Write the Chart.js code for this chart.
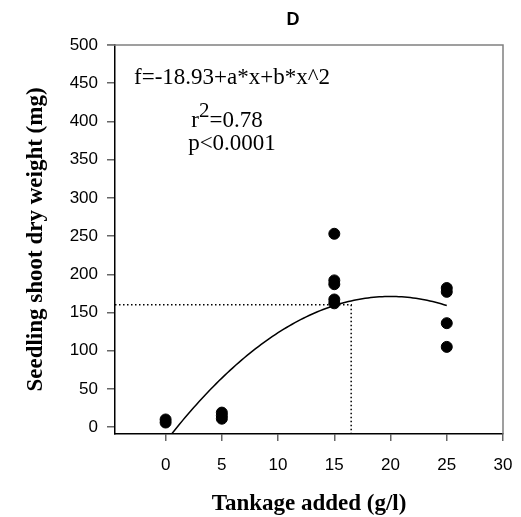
<!DOCTYPE html>
<html>
<head>
<meta charset="utf-8">
<script src="https://cdn.jsdelivr.net/npm/chart.js@4.4.0/dist/chart.umd.min.js"></script>
<style>
  body { margin: 0; background: #fff; }
</style>
</head>
<body>
<canvas id="shootChart" width="521" height="517"></canvas>
<script>
// observed seedlings
var tankage = [0, 0, 5, 5, 5, 15, 15, 15, 15, 15, 25, 25, 25, 25];
var shootWeight = [6, 10, 11, 15, 19, 253, 192, 187, 167, 162, 182, 177, 136, 105];

// tick labels
var xTicks = [0, 5, 10, 15, 20, 25, 30];
var yTicks = [0, 50, 100, 150, 200, 250, 300, 350, 400, 450, 500];

// fitted quadratic  f = c + a*x + b*x^2
var fitC = -18.93, fitA = 18.99, fitB = -0.4748;
var fitFrom = 0, fitTo = 25;

// dotted reference lines
var refX = 16.5, refY = 160;

var xMin = -4.5, xMax = 30, yMin = -9, yMax = 500;

function fitCurve() {
  var pts = [];
  for (var x = fitFrom; x <= fitTo + 1e-9; x += 0.25) {
    pts.push({ x: x, y: fitC + fitA * x + fitB * x * x });
  }
  return pts;
}

var points = tankage.map(function(t, i) { return { x: t, y: shootWeight[i] }; });

var serif = '"Liberation Serif", "Times New Roman", serif';

// text that sits on the canvas itself
var textPlugin = {
  id: 'texts',
  afterDraw: function(chart) {
    var ctx = chart.ctx, a = chart.chartArea;
    ctx.save();
    // grey top and right frame
    ctx.strokeStyle = '#808080';
    ctx.lineWidth = 1.5;
    ctx.beginPath();
    ctx.moveTo(a.left - 8, a.top);
    ctx.lineTo(a.right, a.top);
    ctx.lineTo(a.right, a.bottom);
    ctx.stroke();

    ctx.fillStyle = '#000';
    ctx.textAlign = 'center';
    ctx.textBaseline = 'alphabetic';
    ctx.font = 'bold 18px "Liberation Sans", Arial, sans-serif';
    ctx.fillText('D', 293, 25);

    ctx.font = '23px ' + serif;
    ctx.fillText('f=-18.93+a*x+b*x^2', 232, 84);
    ctx.fillText('p<0.0001', 232, 150);
    // r^2 with raised 2
    ctx.textAlign = 'left';
    var r = 'r', eq = '=0.78';
    var wr = ctx.measureText(r).width, weq = ctx.measureText(eq).width;
    ctx.font = '21px ' + serif;
    var w2 = ctx.measureText('2').width;
    var x0 = 227 - (wr + w2 + weq) / 2;
    ctx.fillText('2', x0 + wr, 117);
    ctx.font = '23px ' + serif;
    ctx.fillText(r, x0, 127);
    ctx.fillText(eq, x0 + wr + w2, 127);

    // axis titles
    ctx.textAlign = 'center';
    ctx.font = 'bold 23px ' + serif;
    ctx.fillText('Tankage added (g/l)', (a.left + a.right) / 2, 510);
    ctx.translate(42, (a.top + a.bottom) / 2);
    ctx.rotate(-Math.PI / 2);
    ctx.fillText('Seedling shoot dry weight (mg)', 0, 0);
    ctx.restore();
  }
};

function createChart() {
  var ctx = document.getElementById('shootChart').getContext('2d');
  new Chart(ctx, {
    type: 'scatter',
    data: {
      datasets: [
        {
          label: 'Shoot weight',
          data: points,
          backgroundColor: '#000',
          borderColor: '#000',
          pointRadius: 5.5,
          pointHoverRadius: 5.5
        },
        {
          type: 'line',
          label: 'Fit',
          data: fitCurve(),
          borderColor: '#000',
          borderWidth: 1.5,
          pointRadius: 0,
          fill: false,
          tension: 0
        },
        {
          type: 'line',
          label: 'Ref',
          data: [{ x: xMin, y: refY }, { x: refX, y: refY }, { x: refX, y: yMin }],
          borderColor: '#000',
          borderWidth: 1.5,
          borderDash: [1.5, 2.5],
          pointRadius: 0,
          fill: false
        }
      ]
    },
    options: {
      responsive: false,
      animation: false,
      events: [],
      layout: { padding: { top: 45, right: 18, left: 0, bottom: 0 } },
      plugins: { legend: { display: false }, tooltip: { enabled: false } },
      scales: {
        x: {
          type: 'linear',
          min: xMin,
          max: xMax,
          afterBuildTicks: function(s) { s.ticks = xTicks.map(function(v) { return { value: v }; }); },
          afterFit: function(s) { s.height = 83; s.paddingLeft = 0; s.paddingRight = 0; },
          grid: { drawOnChartArea: false, drawTicks: true, tickLength: 7, color: '#666', lineWidth: 1.5 },
          border: { color: '#000', width: 1.5 },
          ticks: { color: '#000', padding: 14, font: { family: '"Liberation Sans", Arial, sans-serif', size: 17 } }
        },
        y: {
          type: 'linear',
          min: yMin,
          max: yMax,
          afterBuildTicks: function(s) { s.ticks = yTicks.map(function(v) { return { value: v }; }); },
          afterFit: function(s) { s.width = 115; s.paddingTop = 0; s.paddingBottom = 0; },
          grid: { drawOnChartArea: false, drawTicks: true, tickLength: 8, color: '#666', lineWidth: 1.5 },
          border: { color: '#000', width: 1.5 },
          ticks: { color: '#000', padding: 9, font: { family: '"Liberation Sans", Arial, sans-serif', size: 17 } }
        }
      }
    },
    plugins: [textPlugin]
  });
}

document.addEventListener('DOMContentLoaded', createChart);
</script>
</body>
</html>
